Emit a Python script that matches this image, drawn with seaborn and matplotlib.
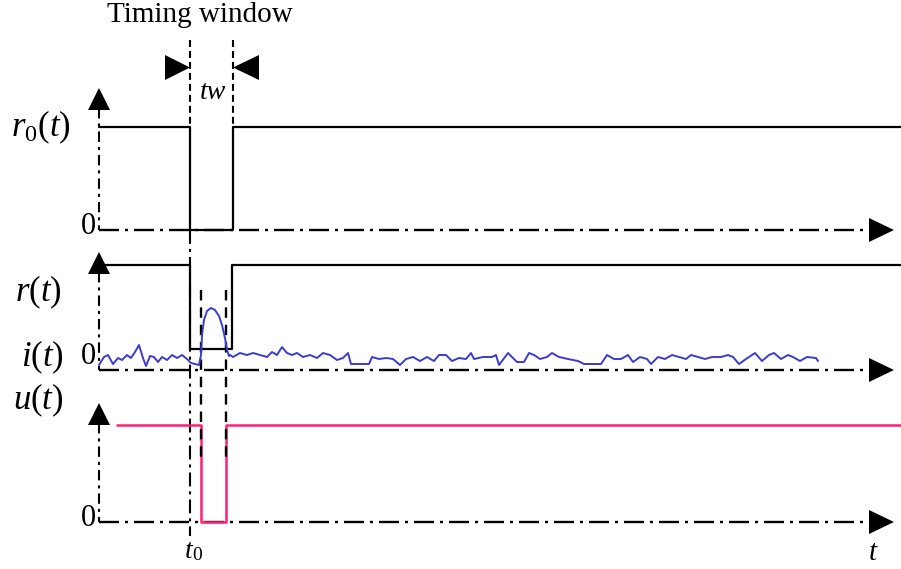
import matplotlib
matplotlib.use("Agg")
import matplotlib.pyplot as plt
import numpy as np
import pandas as pd
import seaborn as sns

# ---------------- data (time in horizontal units, values in vertical units) ----------------
r0_t = [99, 190, 190, 233, 233, 901]
r0_v = [103, 103, 0, 0, 103, 103]

r_t = [99, 190, 190, 232, 232, 901]
r_v = [105, 105, 21, 21, 105, 105]

u_t = [117, 201, 201, 226, 226, 901]
u_v = [97, 97, 0, 0, 97, 97]

i_t = [99, 104, 108, 113, 118, 122, 127, 131, 135, 139, 143, 146, 150, 154, 158, 162, 167, 172,
       177, 182, 187, 191, 195, 199, 201,
       202, 204, 207, 211, 215, 219, 222, 225, 227, 229,
       230, 233, 240, 247, 253, 260, 267, 272, 277, 282, 287, 292, 297, 303, 310, 317, 323, 330,
       337, 343, 348, 351, 369,
       372, 379, 386, 393, 400, 406, 413, 420, 427, 434, 439, 446, 452, 459, 466, 471, 474, 483,
       492, 496, 499, 508, 517, 524, 529, 534, 540, 547, 552, 559, 568, 578, 584, 601, 607, 614,
       621, 628, 633, 640, 647, 651, 658, 665, 672, 679, 686, 691, 698, 705, 712, 721, 728, 733,
       739, 746, 755, 762, 769, 774, 781, 788, 793, 800, 807, 816, 818]
i_v = [5, 13, 15, 6, 12, 10, 15, 12, 18, 25, 12, 4, 14, 13, 8, 13, 10, 15,
       12, 15, 11, 7, 6, 5, 15,
       35, 50, 59, 62, 60, 54, 45, 32, 20, 14,
       15, 13, 17, 15, 17, 15, 13, 18, 15, 23, 17, 15, 17, 13, 15, 12, 17, 15,
       10, 12, 17, 6, 6,
       13, 11, 12, 11, 5, 11, 13, 9, 13, 9, 15, 15, 9, 12, 11, 17, 11, 13,
       13, 15, 5, 17, 8, 8, 17, 15, 11, 13, 17, 13, 11, 9, 6, 6, 15, 11,
       11, 15, 8, 13, 11, 6, 13, 11, 15, 13, 11, 15, 13, 11, 13, 13, 15, 13,
       6, 11, 17, 9, 15, 17, 11, 15, 13, 9, 13, 12, 9]

t0 = 190          # start of timing window
t_end_win = 233   # end of timing window
det_a, det_b = 201, 226   # detected pulse edges

# ---------------- layout ----------------
W, H = 901, 569
base = {"r0": 230, "r": 370, "u": 522}
arrow_tip = {"r0": 88, "r": 252, "u": 403}
axis_x = 99
x_arrow_start, x_arrow_tip = 869, 894

plt.rcParams["lines.scale_dashes"] = False
sns.set_theme(style="white")
plt.rcParams["font.family"] = ["Liberation Serif", "DejaVu Serif"]
plt.rcParams["mathtext.fontset"] = "custom"
plt.rcParams["mathtext.rm"] = "Liberation Serif"
plt.rcParams["mathtext.it"] = "Liberation Serif:italic"
plt.rcParams["text.color"] = "black"

fig = plt.figure(figsize=(W / 100, H / 100), dpi=100)
ax = fig.add_axes([0, 0, 1, 1])

dashdot_h = (0, (14.4, 4.3, 2.2, 4.3))
dashdot_v = (0, (7.5, 3.6, 2.2, 3.6))
dashdot_t0 = (0, (10, 3.6, 2.2, 3.6))
dashed_top = (0, (5, 2.9))
dashed_mid = (0, (7.5, 5))

# axes (dash-dot) with arrow heads
for key in ["r0", "r", "u"]:
    b = base[key]
    tip = arrow_tip[key]
    ax.plot([axis_x, x_arrow_start], [b, b], color="black", lw=1.7, linestyle=dashdot_h,
            solid_capstyle="butt", zorder=2)
    ax.fill([x_arrow_start, x_arrow_start, x_arrow_tip], [b - 12, b + 12, b], color="black", lw=0, zorder=3)
    ax.plot([axis_x, axis_x], [tip + 20, b], color="black", lw=1.5, linestyle=dashdot_v, zorder=2)
    ax.fill([axis_x - 11, axis_x + 11, axis_x], [tip + 22, tip + 22, tip], color="black", lw=0, zorder=3)

# vertical reference lines
ax.plot([t0, t0], [40, 127], color="black", lw=1.5, linestyle=dashed_top, zorder=2)
ax.plot([t_end_win, t_end_win], [40, 127], color="black", lw=1.5, linestyle=dashed_top, zorder=2)
ax.plot([t0, t0], [base["r0"], 536], color="black", lw=1.5, linestyle=dashdot_t0, zorder=2)

# timing window arrows
ax.fill([165, 165, t0], [55, 80, 67.5], color="black", lw=0)
ax.fill([259, 259, t_end_win], [55, 80, 67.5], color="black", lw=0)

# signals via seaborn
def frame(t, v, b):
    return pd.DataFrame({"t": t, "y": [b - x for x in v]})

sns.lineplot(data=frame(r0_t, r0_v, base["r0"]), x="t", y="y", sort=False, estimator=None,
             color="black", lw=1.6, ax=ax, zorder=4)
sns.lineplot(data=frame(r_t, r_v, base["r"]), x="t", y="y", sort=False, estimator=None,
             color="black", lw=1.6, ax=ax, zorder=4)
sns.lineplot(data=frame(u_t, u_v, base["u"]), x="t", y="y", sort=False, estimator=None,
             color="#ff1f78", lw=1.8, ax=ax, zorder=4)

# detection dashed lines over the magenta edges
for xx in [det_a, det_b]:
    ax.plot([xx, xx], [290, 462], color="black", lw=1.7, linestyle=dashed_mid, zorder=5)

sns.lineplot(data=frame(i_t, i_v, base["r"]), x="t", y="y", sort=False, estimator=None,
             color="#3b3bd0", lw=1.4, ax=ax, zorder=6)

ax.set_xlim(0, W)
ax.set_ylim(H, 0)
ax.axis("off")

# texts
fs = 25
ax.text(200, 15, "Timing window", fontsize=21, ha="center", va="center", color="black")
ax.text(213, 92, "tw", fontsize=20, ha="center", va="center", style="italic", color="black")
ax.text(41, 127, r"$r_0(t)$", fontsize=fs, ha="center", va="center", color="black")
ax.text(96, 226, "0", fontsize=22, ha="right", va="center", color="black")
ax.text(38, 292, r"$r(t)$", fontsize=fs, ha="center", va="center", color="black")
ax.text(42, 357, r"$i(t)$", fontsize=fs, ha="center", va="center", color="black")
ax.text(96, 356, "0", fontsize=22, ha="right", va="center", color="black")
ax.text(38, 400, r"$u(t)$", fontsize=fs, ha="center", va="center", color="black")
ax.text(96, 518, "0", fontsize=22, ha="right", va="center", color="black")
ax.text(189, 552, "t", fontsize=20, ha="center", va="center", style="italic", color="black")
ax.text(197, 556, "0", fontsize=14, ha="center", va="center", color="black")
ax.text(873, 553, "t", fontsize=21, ha="center", va="center", style="italic", color="black")

fig.savefig("out.png", dpi=100)
